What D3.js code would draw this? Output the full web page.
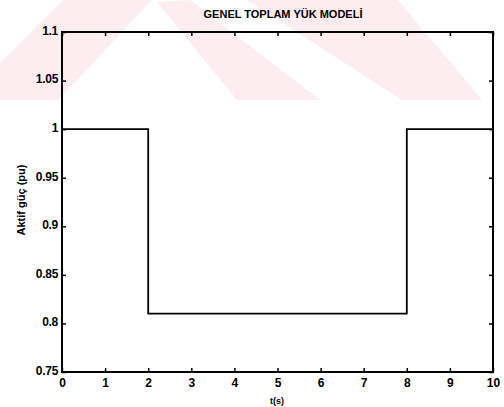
<!DOCTYPE html>
<html>
<head>
<meta charset="utf-8">
<script src="https://cdn.jsdelivr.net/npm/d3@7"></script>
<style>
  body { margin: 0; background: #fff; }
  text { font-family: "Liberation Sans", Arial, sans-serif; font-weight: bold; fill: #000; }
</style>
</head>
<body>
<div class="main-container"></div>
<script>
// step load model: value holds from each time until the next one
var stepTimes = [0, 2, 8, 10];
var loadValues = [1, 0.81, 1, 1];
var xTicks = [0, 1, 2, 3, 4, 5, 6, 7, 8, 9, 10];
var yTicks = [0.75, 0.8, 0.85, 0.9, 0.95, 1, 1.05, 1.1];
var yTickLabels = ["0.75", "0.8", "0.85", "0.9", "0.95", "1", "1.05", "1.1"];

var width = 504, height = 407;
var plotLeft = 62, plotRight = 493, plotTop = 32, plotBottom = 372;

var svg = d3.select(".main-container")
    .append("svg")
    .attr("width", width)
    .attr("height", height);

// faint pink watermark bands behind everything
var bands = [
    [[0, 63], [63, 0], [152, 0], [58, 100], [0, 100]],
    [[157, 2], [190, 0], [320, 100], [237, 100]],
    [[247, 0], [398, 0], [482, 100], [402, 100]]
];
svg.selectAll("polygon.wm")
    .data(bands)
    .enter()
    .append("polygon")
    .attr("class", "wm")
    .attr("points", function (d) { return d.map(function (p) { return p.join(","); }).join(" "); })
    .style("fill", "#fdedf0");

var x = d3.scaleLinear().domain([0, 10]).range([plotLeft, plotRight]);
var y = d3.scaleLinear().domain([0.75, 1.1]).range([plotBottom, plotTop]);

var tickLen = 4;

// bottom axis (ticks pointing inward)
svg.append("g")
    .attr("transform", "translate(0," + plotBottom + ")")
    .call(d3.axisBottom(x).tickValues(xTicks).tickSize(-tickLen).tickPadding(6).tickFormat(d3.format("d")))
    .call(function (g) {
        g.select(".domain").remove();
        g.selectAll("text").style("font-size", "12px");
    });
// top axis ticks only
svg.append("g")
    .attr("transform", "translate(0," + plotTop + ")")
    .call(d3.axisTop(x).tickValues(xTicks).tickSize(-tickLen).tickFormat(""))
    .call(function (g) { g.select(".domain").remove(); });

// left axis
svg.append("g")
    .attr("transform", "translate(" + plotLeft + ",0)")
    .call(d3.axisLeft(y).tickValues(yTicks).tickSize(-tickLen).tickPadding(4)
        .tickFormat(function (d, i) { return yTickLabels[i]; }))
    .call(function (g) {
        g.select(".domain").remove();
        g.selectAll("text").style("font-size", "12px").style("letter-spacing", "-0.3px").attr("dy", "0.2em");
    });
// right axis ticks only
svg.append("g")
    .attr("transform", "translate(" + plotRight + ",0)")
    .call(d3.axisRight(y).tickValues(yTicks).tickSize(-tickLen).tickFormat(""))
    .call(function (g) { g.select(".domain").remove(); });

svg.selectAll(".tick line").style("stroke", "#000").style("stroke-width", 1.5);

// box
svg.append("rect")
    .attr("x", plotLeft).attr("y", plotTop)
    .attr("width", plotRight - plotLeft).attr("height", plotBottom - plotTop)
    .style("fill", "none").style("stroke", "#000").style("stroke-width", 2);

// load line
var line = d3.line()
    .x(function (d, i) { return x(stepTimes[i]); })
    .y(function (d) { return y(d); })
    .curve(d3.curveStepAfter);

svg.append("path")
    .datum(loadValues)
    .attr("d", line)
    .style("fill", "none")
    .style("stroke", "#000")
    .style("stroke-width", 1.8);

// labels
svg.append("text")
    .attr("x", 283).attr("y", 18)
    .attr("text-anchor", "middle")
    .style("font-size", "11px")
    .text("GENEL TOPLAM YÜK MODELİ");

svg.append("text")
    .attr("transform", "translate(25,200) rotate(-90)")
    .attr("text-anchor", "middle")
    .style("font-size", "11px")
    .text("Aktif güç (pu)");

svg.append("text")
    .attr("x", 277).attr("y", 404)
    .attr("text-anchor", "middle")
    .style("font-size", "9px")
    .text("t(s)");
</script>
</body>
</html>
